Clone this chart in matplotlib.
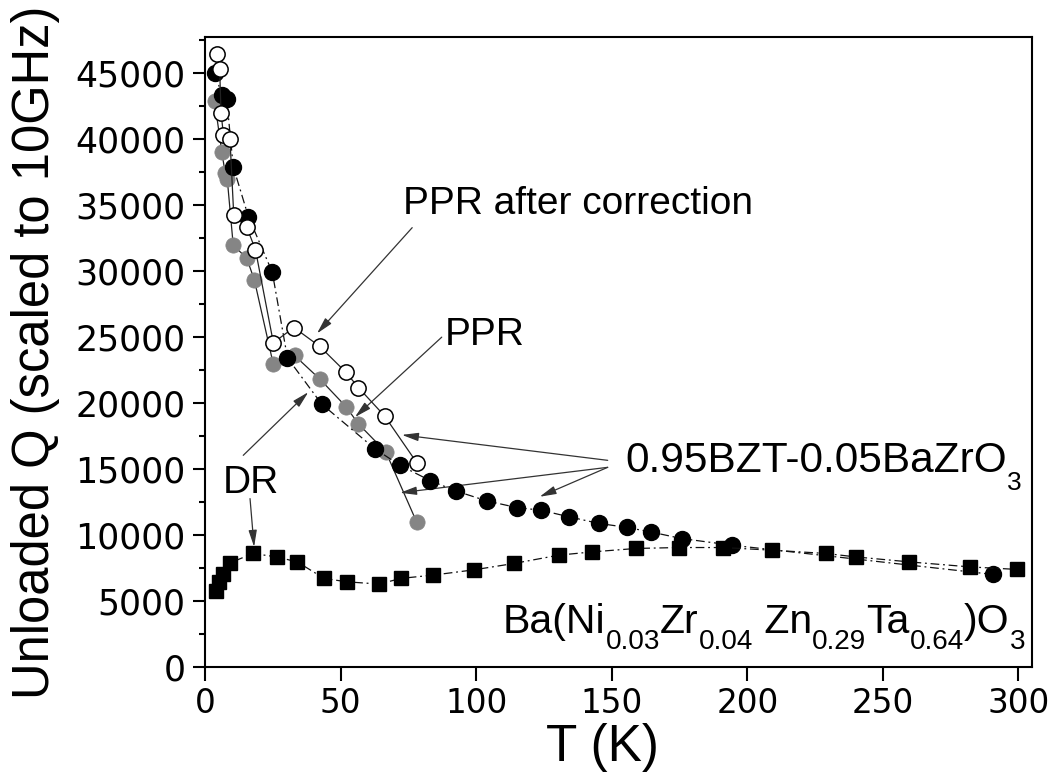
import matplotlib
matplotlib.use("Agg")
import matplotlib.pyplot as plt
import matplotlib.transforms as mtransforms
from matplotlib.ticker import MultipleLocator

# ---- data -------------------------------------------------------------
# PPR after correction (open circles)
t_ppr_corr = [4.4, 5.4, 5.9, 6.8, 9.2, 10.6, 15.4, 18.6, 25.2, 32.8, 42.3,
              52.0, 56.6, 66.2, 78.1]
q_ppr_corr = [46400, 45300, 42000, 40300, 40000, 34200, 33300, 31600, 24550,
              25700, 24270, 22300, 21140, 19000, 15450]

# PPR (grey circles)
t_ppr = [3.5, 6.2, 7.4, 8.2, 10.4, 15.4, 18.2, 25.2, 33.0, 42.4, 52.0, 56.5,
         66.7, 78.1]
q_ppr = [42900, 39000, 37450, 36950, 31950, 30950, 29300, 22900, 23580, 21780,
         19700, 18410, 16260, 10930]

# dielectric resonator, 0.95BZT-0.05BaZrO3 (filled circles)
t_dr_bzt = [3.7, 6.2, 8.0, 10.4, 16.0, 24.8, 30.4, 43.0, 62.7, 71.9, 83.0,
            92.6, 104.0, 115.0, 123.9, 134.2, 145.2, 155.5, 164.4, 175.8,
            194.2, 290.6]
q_dr_bzt = [45000, 43300, 43000, 37900, 34100, 29900, 23400, 19900, 16500,
            15250, 14100, 13300, 12550, 12050, 11850, 11350, 10850, 10550,
            10200, 9700, 9200, 6980]

# dielectric resonator, Ba(Ni,Zr,Zn,Ta)O3 (filled squares)
t_dr_bnzt = [3.9, 5.3, 6.6, 9.2, 17.6, 26.4, 34.0, 43.9, 52.3, 64.3, 72.2,
             84.2, 99.2, 113.9, 130.4, 142.8, 159.0, 174.7, 191.0, 209.0,
             229.0, 239.9, 259.8, 282.2, 299.5]
q_dr_bnzt = [5750, 6400, 7000, 7850, 8570, 8310, 7930, 6680, 6420, 6250, 6680,
             6930, 7330, 7810, 8440, 8690, 8950, 9020, 9020, 8820, 8570, 8310,
             7930, 7550, 7360]

x_ticks = [0, 50, 100, 150, 200, 250, 300]
y_ticks = list(range(0, 45001, 5000))

# ---- figure -----------------------------------------------------------
plt.rcParams["font.family"] = ["Liberation Sans", "DejaVu Sans"]

fig = plt.figure(figsize=(10.53, 7.81), dpi=100)
ax = fig.add_axes([0.1947, 0.1466, 0.7854, 0.8056])

GREY = "#858585"
dashdot = (0, (7, 3, 1.5, 3))

ax.plot(t_ppr, q_ppr, "-", color="#222222", lw=0.9, marker="o", ms=11,
        mfc=GREY, mec=GREY, mew=0.5, zorder=3)
ax.plot(t_dr_bzt, q_dr_bzt, color="#111111", lw=0.9, linestyle=dashdot,
        marker="o", ms=11.5, mfc="black", mec="black", zorder=4)
ax.plot(t_ppr_corr, q_ppr_corr, "-", color="#222222", lw=0.9, marker="o",
        ms=11, mfc="white", mec="black", mew=1.1, zorder=5)
ax.plot(t_dr_bnzt, q_dr_bnzt, color="#111111", lw=0.9, linestyle=dashdot,
        marker="s", ms=10, mfc="black", mec="black", zorder=4)

ax.set_xlim(0, 305)
ax.set_ylim(0, 47700)
ax.set_xticks(x_ticks)
ax.set_yticks(y_ticks)
ax.yaxis.set_minor_locator(MultipleLocator(2500))
ax.tick_params(axis="both", which="major", direction="out", width=1.5,
               top=False, right=False)
ax.tick_params(axis="x", which="major", length=10, pad=5, labelsize=23.5)
ax.tick_params(axis="y", which="major", length=8.5, pad=5.5, labelsize=25)
ax.tick_params(axis="y", which="minor", direction="out", length=4.5,
               width=1.5, right=False)
for lbl in ax.get_xticklabels() + ax.get_yticklabels():
    lbl.set_fontfamily("DejaVu Sans")
for sp in ax.spines.values():
    sp.set_linewidth(1.5)

ax.set_xlabel("T (K)", fontsize=37)
ax.set_ylabel("Unloaded Q (scaled to 10GHz)", fontsize=36.5)
ax.xaxis.set_label_coords(0.48, -0.09)
ax.yaxis.set_label_coords(-0.175, 0.5)

# ---- annotations ------------------------------------------------------
arrow = dict(arrowstyle="-|>,head_length=1.0,head_width=0.25",
             color="#333333", lw=0.9, shrinkA=0, shrinkB=0)

ax.text(73.0, 34330, "PPR after correction", fontsize=28, va="baseline")
ax.annotate("", xy=(41.3, 25250), xytext=(76.4, 33270), arrowprops=arrow)

ax.text(88.5, 24340, "PPR", fontsize=28, va="baseline")
ax.annotate("", xy=(55.3, 18910), xytext=(87.3, 24970), arrowprops=arrow)

ax.text(6.6, 13130, "DR", fontsize=28, va="baseline")
ax.annotate("", xy=(38.1, 20800), xytext=(14.1, 16010), arrowprops=arrow)
ax.annotate("", xy=(18.1, 9070), xytext=(16.6, 12730), arrowprops=arrow)

ax.annotate("", xy=(72.6, 17560), xytext=(148.5, 15630), arrowprops=arrow)
ax.annotate("", xy=(71.9, 13170), xytext=(148.5, 15100), arrowprops=arrow)
ax.annotate("", xy=(123.4, 12870), xytext=(148.5, 15100), arrowprops=arrow)


def formula(x, y, pieces, size, sub_scale=0.6, sub_drop=0.43):
    """Write a chemical formula with real subscripts, piece by piece."""
    renderer = fig.canvas.get_renderer()
    dx = 0.0
    for s, sub in pieces:
        fs = size * sub_scale if sub else size
        dy = -sub_drop * size if sub else 0.0
        tr = mtransforms.offset_copy(ax.transData, fig=fig, x=dx, y=dy,
                                     units="points")
        t = ax.text(x, y, s, fontsize=fs, transform=tr, va="baseline",
                    ha="left")
        dx += t.get_window_extent(renderer).width * 72.0 / fig.dpi


fig.canvas.draw()
formula(154.9, 14750, [("0.95BZT-0.05BaZrO", False), ("3", True)], 30.5,
        sub_scale=0.62)
formula(109.9, 2540, [("Ba(Ni", False), ("0.03", True), ("Zr", False),
                      ("0.04", True), (" Zn", False), ("0.29", True),
                      ("Ta", False), ("0.64", True), (")O", False),
                      ("3", True)], 29.5, sub_scale=0.68, sub_drop=0.4)

fig.savefig("out.png", dpi=100)
